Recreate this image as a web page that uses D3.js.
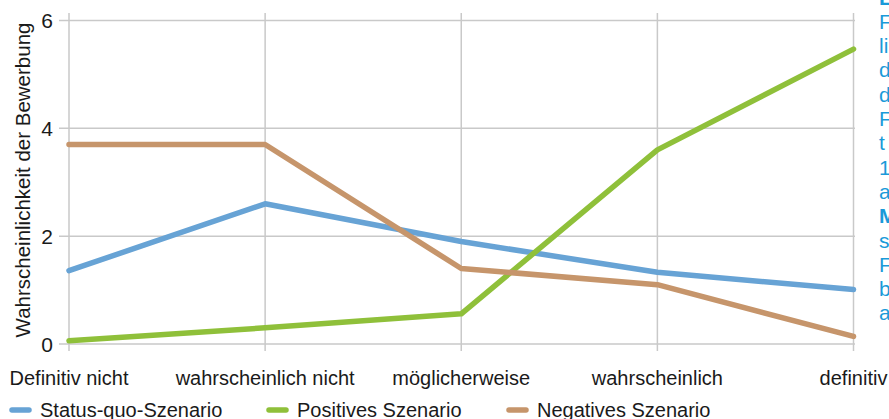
<!DOCTYPE html>
<html>
<head>
<meta charset="utf-8">
<script src="https://cdn.jsdelivr.net/npm/d3@7"></script>
<style>
  body { margin: 0; background: #fff; overflow: hidden; }
  text { font-family: "Liberation Sans", Arial, sans-serif; }
</style>
</head>
<body>
<div id="chart"></div>
<script>
// categories on the x axis
var categories = ["Definitiv nicht", "wahrscheinlich nicht", "möglicherweise", "wahrscheinlich", "definitiv"];
var yTicks = [0, 2, 4, 6];

// one array per scenario
var statusQuo = [1.36, 2.6, 1.9, 1.33, 1.01];
var positiv   = [0.06, 0.3, 0.56, 3.6, 5.47];
var negativ   = [3.7, 3.7, 1.4, 1.1, 0.14];

var seriesNames = ["Status-quo-Szenario", "Positives Szenario", "Negatives Szenario"];
var seriesColors = ["#67a3d5", "#8fc03a", "#c6956b"];

// side note, cut off at the right edge of the picture
var noteLines = ["Lesebeispiel:", "Frage nach der", "likelihood", "der Bewerbung", "durch", "Frauen", "t", "1 = nie", "auf Skala", "Methode:", "siehe", "Fragebogen", "bei", "allen"];
var noteBold = [true, false, false, false, false, false, false, false, false, true, false, false, false, false];

var width = 889,
    height = 419;

var svg = d3.select('#chart')
      .append('svg')
      .attr('width', width)
      .attr('height', height);

var x = d3.scalePoint()
      .domain(categories)
      .range([69, 853.5]);

var y = d3.scaleLinear()
      .domain([0, 6])
      .range([344, 20.5]);

// grid lines
svg.selectAll('.hgrid')
  .data(yTicks)
  .enter()
  .append('line')
  .attr('x1', 59)
  .attr('x2', 855)
  .attr('y1', d => y(d))
  .attr('y2', d => y(d))
  .attr('stroke', '#c9c9c9')
  .attr('stroke-width', 1.5);

svg.selectAll('.vgrid')
  .data(categories)
  .enter()
  .append('line')
  .attr('x1', d => x(d))
  .attr('x2', d => x(d))
  .attr('y1', 13)
  .attr('y2', 351)
  .attr('stroke', '#c9c9c9')
  .attr('stroke-width', 1.5);

// y tick labels
svg.selectAll('.ylab')
  .data(yTicks)
  .enter()
  .append('text')
  .attr('x', 53)
  .attr('y', d => y(d))
  .attr('dy', '0.36em')
  .attr('text-anchor', 'end')
  .style('font-size', '21px')
  .style('fill', '#1a1a1a')
  .text(d => d);

// x labels
svg.selectAll('.xlab')
  .data(categories)
  .enter()
  .append('text')
  .attr('x', d => x(d))
  .attr('y', 385)
  .attr('text-anchor', 'middle')
  .style('font-size', '20px')
  .style('fill', '#1a1a1a')
  .text(d => d);

// y axis title
svg.append('text')
  .attr('transform', 'translate(30,180) rotate(-90)')
  .attr('text-anchor', 'middle')
  .style('font-size', '20.5px')
  .style('fill', '#1a1a1a')
  .text('Wahrscheinlichkeit der Bewerbung');

// lines
var line = d3.line()
  .x((d, i) => x(categories[i]))
  .y(d => y(d));

[statusQuo, positiv, negativ].forEach(function(s, k) {
  svg.append('path')
    .datum(s)
    .attr('d', line)
    .attr('fill', 'none')
    .attr('stroke', seriesColors[k])
    .attr('stroke-width', 5.5)
    .attr('stroke-linecap', 'round')
    .attr('stroke-linejoin', 'round');
});

// legend
var legendX = [12, 269, 509];
var legend = svg.selectAll('.leg')
  .data(seriesNames)
  .enter()
  .append('g')
  .attr('transform', (d, i) => 'translate(' + legendX[i] + ',410)');

legend.append('line')
  .attr('x1', 0)
  .attr('x2', 17)
  .attr('stroke', (d, i) => seriesColors[i])
  .attr('stroke-width', 5.5)
  .attr('stroke-linecap', 'round');

legend.append('text')
  .attr('x', 28)
  .attr('dy', '0.36em')
  .style('font-size', '20px')
  .style('fill', '#1a1a1a')
  .text(d => d);

// blue side note
svg.selectAll('.note')
  .data(noteLines)
  .enter()
  .append('text')
  .attr('x', 879)
  .attr('y', (d, i) => -3 + i * 24.3)
  .attr('dy', '0.36em')
  .style('font-size', '21px')
  .style('font-weight', (d, i) => noteBold[i] ? 'bold' : 'normal')
  .style('fill', '#1a9ad9')
  .text(d => d);
</script>
</body>
</html>
